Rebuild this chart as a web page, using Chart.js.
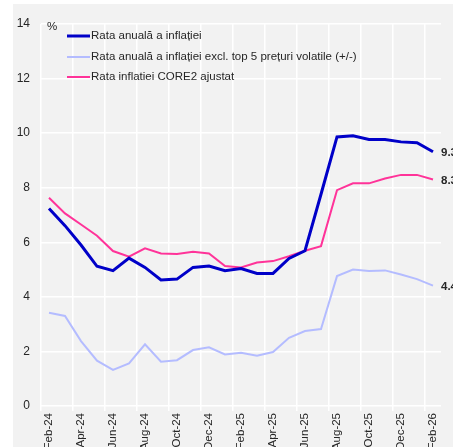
<!DOCTYPE html>
<html>
<head>
<meta charset="utf-8">
<script src="https://cdn.jsdelivr.net/npm/chart.js@4/dist/chart.umd.min.js"></script>
<style>
    html, body { margin: 0; padding: 0; background: #ffffff; overflow: hidden; }
    .panel { position: absolute; left: 13px; top: 4px; width: 440px; height: 460px; background: #f2f2f2; }
    .wrap { position: absolute; left: 0; top: 0; width: 453px; height: 462px; }
</style>
</head>
<body>
<div class="panel"></div>
<div class="wrap"><canvas id="chart"></canvas></div>
<script>
const months = ['Feb-24', 'Mar-24', 'Apr-24', 'May-24', 'Jun-24', 'Jul-24', 'Aug-24', 'Sep-24', 'Oct-24', 'Nov-24', 'Dec-24',
    'Jan-25', 'Feb-25', 'Mar-25', 'Apr-25', 'May-25', 'Jun-25', 'Jul-25', 'Aug-25', 'Sep-25', 'Oct-25', 'Nov-25', 'Dec-25',
    'Jan-26', 'Feb-26'];

const inflatie = [7.24, 6.61, 5.90, 5.12, 4.96, 5.42, 5.08, 4.62, 4.65, 5.08, 5.13, 4.96, 5.04,
    4.86, 4.86, 5.41, 5.69, 7.76, 9.86, 9.90, 9.77, 9.77, 9.68, 9.65, 9.32];
const exclTop5 = [3.42, 3.30, 2.38, 1.66, 1.32, 1.56, 2.26, 1.62, 1.68, 2.05, 2.15, 1.89, 1.95,
    1.84, 1.98, 2.50, 2.75, 2.82, 4.76, 5.00, 4.95, 4.97, 4.82, 4.65, 4.41];
const core2 = [7.63, 7.06, 6.65, 6.24, 5.68, 5.47, 5.78, 5.59, 5.57, 5.65, 5.59, 5.13, 5.08,
    5.26, 5.31, 5.49, 5.69, 5.86, 7.91, 8.16, 8.16, 8.34, 8.47, 8.47, 8.30];

const yTicks = [0, 2, 4, 6, 8, 10, 12, 14];

const colors = {
    blue: '#0000c8',
    lightBlue: '#b4bcff',
    pink: '#ff3399',
    grid: '#ffffff',
    text: '#262626',
};

const fontFamily = "'Liberation Sans', Arial, sans-serif";

// legend, % label and last values drawn inside the plot
const overlay = {
    id: 'overlay',
    afterDatasetsDraw(chart) {
        const { ctx, chartArea } = chart;
        ctx.save();
        ctx.font = `11.5px ${fontFamily}`;
        ctx.fillStyle = colors.text;
        ctx.textBaseline = 'middle';
        ctx.textAlign = 'left';
        ctx.fillText('%', chartArea.left + 6, chartArea.top + 3);

        const rows = [
            { text: 'Rata anuală a inflației', color: colors.blue, width: 3, y: 36 },
            { text: 'Rata anuală a inflației excl. top 5 prețuri volatile (+/-)', color: colors.lightBlue, width: 2, y: 57 },
            { text: 'Rata inflatiei CORE2 ajustat', color: colors.pink, width: 2, y: 77 },
        ];
        rows.forEach((row) => {
            ctx.strokeStyle = row.color;
            ctx.lineWidth = row.width;
            ctx.beginPath();
            ctx.moveTo(67, row.y);
            ctx.lineTo(90, row.y);
            ctx.stroke();
            ctx.fillText(row.text, 91, row.y);
        });

        ctx.font = `bold 11.5px ${fontFamily}`;
        chart.data.datasets.forEach((ds, i) => {
            const meta = chart.getDatasetMeta(i);
            const last = meta.data[meta.data.length - 1];
            const value = ds.data[ds.data.length - 1];
            ctx.fillText(value.toFixed(1), last.x + 8, last.y + 1);
        });
        ctx.restore();
    },
};

new Chart(document.getElementById('chart'), {
    type: 'line',
    data: {
        labels: months,
        datasets: [
            {
                label: 'Rata anuală a inflației',
                data: inflatie,
                borderColor: colors.blue,
                borderWidth: 3,
            },
            {
                label: 'Rata inflatiei CORE2 ajustat',
                data: core2,
                borderColor: colors.pink,
                borderWidth: 2,
            },
            {
                label: 'Rata anuală a inflației excl. top 5 prețuri volatile (+/-)',
                data: exclTop5,
                borderColor: colors.lightBlue,
                borderWidth: 2,
            },
        ],
    },
    options: {
        responsive: true,
        maintainAspectRatio: false,
        animation: false,
        elements: { point: { radius: 0 }, line: { tension: 0 } },
        layout: { padding: { top: 24, right: 12, bottom: 0, left: 0 } },
        plugins: { legend: { display: false }, tooltip: { enabled: false } },
        scales: {
            x: {
                offset: true,
                border: { display: false },
                grid: {
                    offset: true,
                    lineWidth: 1.5,
                    tickLength: 5,
                    color: (c) => (c.index % 2 === 0 ? colors.grid : 'rgba(0,0,0,0)'),
                },
                ticks: {
                    autoSkip: false,
                    minRotation: 90,
                    maxRotation: 90,
                    padding: 2,
                    color: colors.text,
                    font: { family: fontFamily, size: 11.5 },
                    callback(value, index) {
                        return index % 2 === 0 ? months[index] : '';
                    },
                },
                afterFit(scale) { scale.height = 56; },
            },
            y: {
                min: 0,
                max: 14,
                border: { display: false },
                grid: { color: colors.grid, lineWidth: 1.5, drawTicks: false },
                afterBuildTicks(scale) { scale.ticks = yTicks.map((v) => ({ value: v })); },
                ticks: {
                    padding: 11,
                    color: colors.text,
                    font: { family: fontFamily, size: 12 },
                },
                afterFit(scale) { scale.width = 41; },
            },
        },
    },
    plugins: [overlay],
});
</script>
</body>
</html>
